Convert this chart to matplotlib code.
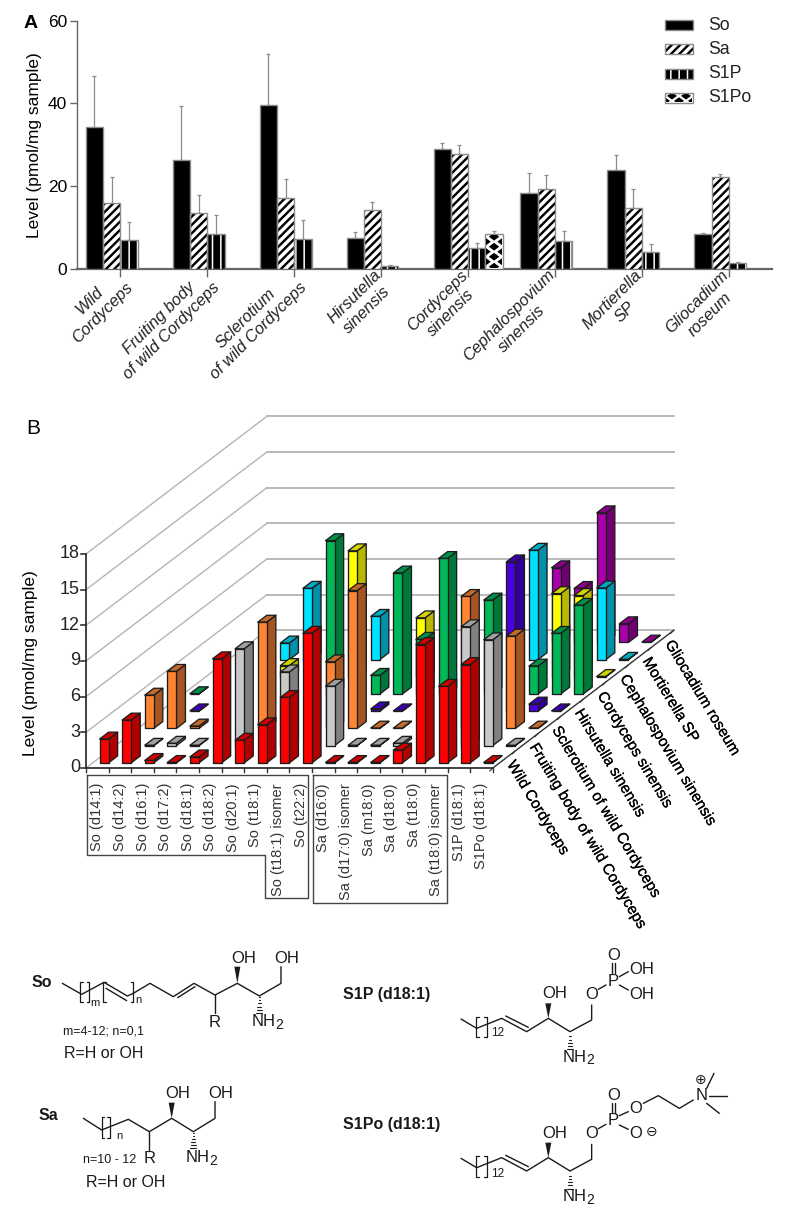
import numpy as np
import matplotlib
matplotlib.use("Agg")
import matplotlib.pyplot as plt
from matplotlib.patches import Polygon, Rectangle
from matplotlib.transforms import ScaledTranslation
from matplotlib.patheffects import withStroke

plt.rcParams["font.family"] = ["Liberation Sans", "DejaVu Sans"]

W, H = 787, 1210
nan = float("nan")

# ----------------------------------
# Panel A data
# ----------------------------------

species_a = [
    "Wild\nCordyceps", "Fruiting body\nof wild Cordyceps",
    "Sclerotium\nof wild Cordyceps", "Hirsutella\nsinensis",
    "Cordyceps\nsinensis", "Cephalospovium\nsinensis",
    "Mortierella\nSP", "Gliocadium\nroseum",
]
so_mean = [34.3, 26.2, 39.7, 7.5, 29.0, 18.4, 23.9, 8.5]
so_sd = [12.4, 13.1, 12.2, 1.5, 1.5, 4.7, 3.5, 0.2]
sa_mean = [16.0, 13.5, 17.2, 14.3, 27.7, 19.2, 14.6, 22.2]
sa_sd = [6.1, 4.3, 4.4, 1.9, 2.2, 3.4, 4.7, 0.8]
s1p_mean = [7.0, 8.4, 7.1, 0.6, 5.0, 6.6, 4.1, 1.5]
s1p_sd = [4.2, 4.5, 4.7, 0.2, 1.2, 2.6, 1.9, 0.1]
s1po_mean = [nan, nan, nan, nan, 8.5, nan, nan, nan]
s1po_sd = [nan, nan, nan, nan, 0.6, nan, nan, nan]

# ----------------------------------
# Panel B data (None = hidden behind a front bar)
# ----------------------------------

lipids = [
    "So (d14:1)", "So (d14:2)", "So (d16:1)", "So (d17:2)", "So (d18:1)",
    "So (d18:2)", "So (d20:1)", "So (t18:1)", "So (t18:1) isomer", "So (t22:2)",
    "Sa (d16:0)", "Sa (d17:0) isomer", "Sa (m18:0)", "Sa (d18:0)", "Sa (t18:0)",
    "Sa (t18:0) isomer", "S1P (d18:1)", "S1Po (d18:1)",
]
species_b = [
    "Wild Cordyceps", "Fruiting body of wild Cordyceps",
    "Sclerotium of wild Cordyceps", "Hirsutella sinensis", "Cordyceps sinensis",
    "Cephalospovium sinensis", "Mortierella SP", "Gliocadium roseum",
]
wild = [2.0, 3.6, 0.2, 0.03, 0.5, 8.75, 1.9, 3.2, 5.5, 10.9, 0.03, 0.03, 0.03,
        1.07, 9.95, 6.43, 8.27, 0.03]
fruiting = [None, 0.03, 0.2, 0.03, None, 8.15, None, 6.2, None, 5.0, 0.03, 0.03,
            0.2, None, None, 10.0, 8.9, 0.03]
sclerotium = [2.8, 4.8, 0.2, None, None, 8.94, None, None, 5.6, 11.6, 0.03, 0.03,
              None, None, 11.1, None, 7.77, 0.03]
hirsutella = [None, 0.03, None, None, None, None, None, None, None, 0.2, 0.03,
              None, None, None, None, 12.56, 0.6, 0.03]
cordyceps = [0.03, None, None, None, None, None, 12.9, None, 1.57, 10.18, 4.6,
             11.4, None, 7.9, None, 2.35, 5.1, 7.46]
cephalo = [None, None, None, 0.95, None, None, 10.6, None, None, 4.96, None, None,
           None, None, None, 7.0, 6.84, 0.03]
mortierella = [None, None, 1.4, 6.0, None, None, 3.64, None, None, None, None, None,
               None, 9.2, None, None, 6.03, 0.03]
gliocadium = [None, None, None, None, None, None, None, None, None, None, None,
              None, None, 6.28, 4.54, 10.9, 1.57, 0.03]
level_rows = [wild, fruiting, sclerotium, hirsutella, cordyceps, cephalo,
              mortierella, gliocadium]

# front, side, top
row_colors = [
    ("#ff0000", "#b00000", "#d00000"),
    ("#c8c8c8", "#808080", "#a0a0a0"),
    ("#ff8533", "#a65522", "#c46a2c"),
    ("#4b00e0", "#300098", "#3c00b4"),
    ("#00b858", "#00783a", "#009048"),
    ("#ffff00", "#b8b800", "#d4d400"),
    ("#00e0ff", "#0090a8", "#00aac4"),
    ("#a800a8", "#700070", "#8a008a"),
]

fig = plt.figure(figsize=(W / 100, H / 100), dpi=100)
fig.patch.set_facecolor("white")

# ----------------------------------
# Panel A
# ----------------------------------

GREY = "#666666"
ax = fig.add_axes([77 / W, 1 - 268.7 / H, (772 - 77) / W, (268.7 - 20.7) / H])
group_px = 86.95
bar_w = 17.3 / group_px
ax.set_xlim((77 - 120.3) / group_px, (772 - 120.3) / group_px)
ax.set_ylim(0, 60)
xpos = np.arange(len(species_a))


def hatched_bar(x, vals, face, hatch=None, hatch_color="black", hatch_lw=1.3):
    with plt.rc_context({"hatch.linewidth": hatch_lw}):
        ax.bar(x, vals, bar_w, color=face, edgecolor=hatch_color, hatch=hatch,
               linewidth=0, zorder=3)
    ax.bar(x, vals, bar_w, fill=False, edgecolor="#8c8c8c", linewidth=1, zorder=4)


series = [
    (so_mean, so_sd, "black", None, "black", 1.3),
    (sa_mean, sa_sd, "white", "////", "black", 1.75),
    (s1p_mean, s1p_sd, "black", "||", "white", 1.1),
    (s1po_mean, s1po_sd, "white", None, "black", 1.3),
]
for i, (vals, sd, face, hatch, hc, hlw) in enumerate(series):
    x = xpos + (i - 1.5) * bar_w
    hatched_bar(x, vals, face, hatch, hc, hlw)
    ax.errorbar(x, vals, yerr=[np.zeros(len(sd)), sd], fmt="none", ecolor="#8c8c8c",
                elinewidth=0.9, capsize=1.5, capthick=0.9, zorder=2)

ax.spines["top"].set_visible(False)
ax.spines["right"].set_visible(False)
ax.spines["left"].set_color(GREY)
ax.spines["left"].set_linewidth(1)
ax.spines["bottom"].set_color(GREY)
ax.spines["bottom"].set_linewidth(1.6)
ax.set_yticks([0, 20, 40, 60])
ax.tick_params(axis="y", labelsize=12.5, length=5, width=1, color=GREY, pad=2)
ax.set_xticks(xpos)
ax.set_xticklabels(species_a, rotation=45, ha="right", va="top",
                   rotation_mode="anchor", ma="center", style="italic", fontsize=11.8,
                   color="#222222", linespacing=1.25)
ax.tick_params(axis="x", length=6, width=1, color=GREY, pad=-7)
shift = ScaledTranslation(-8 / 100, 0, fig.dpi_scale_trans)
for lab in ax.get_xticklabels():
    lab.set_transform(lab.get_transform() + shift)
ax.set_ylabel("Level (pmol/mg sample)", fontsize=12.5, labelpad=4)

# ----------------------------------
# Pixel canvas for everything else
# ----------------------------------

canvas = fig.add_axes([0, 0, 1, 1], zorder=5)
canvas.set_xlim(0, W)
canvas.set_ylim(H, 0)
canvas.axis("off")
canvas.patch.set_alpha(0)

canvas.text(24, 27.7, "A", fontsize=14, fontweight="bold", va="baseline")
canvas.text(26, 434, "B", fontsize=15, va="baseline")


def diamonds(x0, y0, w, h, px=17, py=10, hw=5.2, hh=3.9):
    # S1Po fill: staggered black diamonds, clipped to the bar
    clip = Rectangle((x0 + 1, y0 + 1), w - 2, h - 2, transform=canvas.transData)
    cx = x0 + w / 2
    for j in range(int(h / (py / 2)) + 2):
        cy = y0 + h - 2 - j * py / 2
        off = 0 if j % 2 == 0 else px / 2
        for i in range(-3, 4):
            xc = cx + i * px + off
            d = Polygon([(xc - hw, cy), (xc, cy - hh), (xc + hw, cy), (xc, cy + hh)],
                        closed=True, facecolor="black", edgecolor="none")
            canvas.add_patch(d)
            d.set_clip_path(clip)


# the S1Po bar, taken from the axis scales
idx = 4
xa = ax.transData.transform((xpos[idx] + 1.5 * bar_w - bar_w / 2, s1po_mean[idx]))
xb = ax.transData.transform((xpos[idx] + 1.5 * bar_w + bar_w / 2, 0))
diamonds(xa[0], H - xa[1], xb[0] - xa[0], xa[1] - xb[1])

# legend
legend_names = ["So", "Sa", "S1P", "S1Po"]
for i, (name, s) in enumerate(zip(legend_names, series)):
    y0 = 20 + i * 24.3
    with plt.rc_context({"hatch.linewidth": s[5]}):
        canvas.add_patch(Rectangle((665, y0), 28, 10, facecolor=s[2], edgecolor=s[4],
                                   hatch=s[3], linewidth=0))
    if name == "S1Po":
        diamonds(665, y0, 28, 10, px=14, py=10, hw=5, hh=3.6)
    canvas.add_patch(Rectangle((665, y0), 28, 10, fill=False, edgecolor="#8c8c8c", linewidth=1))
    canvas.text(708, y0 + 5, name, fontsize=12.7, va="center", ha="left", color="#222222")

# ----------------------------------
# Panel B, oblique projection
# ----------------------------------

X0, Y0 = 86, 768
COL = 22.6
DX, DY = 22.6, 17.2
UNIT = 11.89
n_cols = len(lipids)
n_rows = len(species_b)


def proj(col, row, val=0.0):
    return (X0 + col * COL + row * DX, Y0 - row * DY - val * UNIT)


WALL = "#b4b4b4"
ticks_b = [0, 3, 6, 9, 12, 15, 18]
for v in ticks_b:
    a, b, c = proj(0, 0, v), proj(0, n_rows, v), proj(n_cols, n_rows, v)
    canvas.plot([a[0], b[0]], [a[1], b[1]], color=WALL, lw=1, zorder=1)
    canvas.plot([b[0], c[0]], [b[1], c[1]], color=WALL, lw=1.3, zorder=1)
    canvas.plot([a[0], a[0] - 5], [a[1], a[1]], color="#333333", lw=1.2, zorder=2)
    canvas.text(a[0] - 6, a[1], str(v), ha="right", va="center", fontsize=13, color="#222222")

canvas.plot([X0, X0], [proj(0, 0, 18)[1], Y0], color="#333333", lw=1.3, zorder=2)
f1, f2 = proj(n_cols, 0), proj(n_cols, n_rows)
canvas.plot([X0, f1[0]], [Y0, f1[1]], color="#333333", lw=1.3, zorder=2)
canvas.plot([f1[0], f2[0]], [f1[1], f2[1]], color="#333333", lw=1, zorder=2)

for k in range(n_cols + 1):
    p = proj(k, 0)
    canvas.plot([p[0], p[0]], [p[1], p[1] + 4], color="#333333", lw=1, zorder=2)
for r in range(n_rows + 1):
    p = proj(n_cols, r)
    canvas.plot([p[0], p[0] - 3], [p[1], p[1] + 3], color="#333333", lw=0.8, zorder=2)

EDGE = "#1c1c1c"
z = 10
for r in range(n_rows - 1, -1, -1):
    front, side, top = row_colors[r]
    for k, v in enumerate(level_rows[r]):
        if v is None:
            continue
        c0, c1 = k + 0.3, k + 0.7
        r0, r1 = r + 0.3, r + 0.7
        polys = [
            ([proj(c1, r0), proj(c1, r1), proj(c1, r1, v), proj(c1, r0, v)], side),
            ([proj(c0, r0, v), proj(c1, r0, v), proj(c1, r1, v), proj(c0, r1, v)], top),
            ([proj(c0, r0), proj(c1, r0), proj(c1, r0, v), proj(c0, r0, v)], front),
        ]
        for pts, col in polys:
            canvas.add_patch(Polygon(pts, closed=True, facecolor=col, edgecolor=EDGE,
                                     linewidth=0.95, joinstyle="round", zorder=z))
        z += 1

canvas.text(31, 663, "Level (pmol/mg sample)", rotation=90, ha="center", va="center",
            fontsize=12.5)

for k, name in enumerate(lipids):
    p = proj(k + 0.5, 0)
    canvas.text(p[0], 783, name, rotation=90, ha="center", va="top", fontsize=10.5,
                color="#333333")

for r, name in enumerate(species_b):
    p = proj(n_cols, r + 0.5)
    canvas.text(p[0] + 12, p[1] - 1, name, rotation=-59, ha="left", va="top",
                rotation_mode="anchor", fontsize=11, color="black",
                path_effects=[withStroke(linewidth=0.15, foreground="black")])

box_color = "#444444"
canvas.plot([87, 308, 308, 265, 265, 87, 87], [775, 775, 898, 898, 855, 855, 775],
            color=box_color, lw=1)
canvas.plot([313, 446.5, 446.5, 313, 313], [775, 775, 903, 903, 775], color=box_color, lw=1)

# ----------------------------------
# Structures (traced on a 3x grid)
# ----------------------------------


def line(ox, oy, pts, lw=1.0):
    xs = [ox + p[0] / 3 for p in pts]
    ys = [oy + p[1] / 3 for p in pts]
    canvas.plot(xs, ys, color="#1a1a1a", lw=lw, solid_capstyle="round")


def label(ox, oy, x, y, s, size=12, **kw):
    kw.setdefault("ha", "center")
    kw.setdefault("va", "center")
    canvas.text(ox + x / 3, oy + y / 3, s, fontsize=size, color="#1a1a1a", **kw)


def wedge(ox, oy, base, tip, half=9):
    pts = [(ox + base[0] / 3, oy + base[1] / 3),
           (ox + (tip[0] - half) / 3, oy + tip[1] / 3),
           (ox + (tip[0] + half) / 3, oy + tip[1] / 3)]
    canvas.add_patch(Polygon(pts, closed=True, facecolor="#1a1a1a", edgecolor="none"))


def hashed(ox, oy, base, tip):
    for t in np.linspace(0.08, 1, 6):
        y = base[1] + (tip[1] - base[1]) * t
        half = 9 * t
        line(ox, oy, [(base[0] - half, y), (base[0] + half, y)], lw=0.8)


def bracket(ox, oy, x, y0, y1, side):
    line(ox, oy, [(x + side * 8, y0), (x, y0), (x, y1), (x + side * 8, y1)], lw=0.9)


def nh2(ox, oy, x, y):
    label(ox, oy, x, y, "NH")
    label(ox, oy, x + 47, y + 9, "2", size=10)


# So
ox, oy = 0, 950
label(ox, oy, 125, 98, "So", fontweight="bold", size=11.5)
line(ox, oy, [(187, 100), (245, 133), (312, 97), (382, 138), (400, 130), (450, 100),
              (520, 140), (582, 100), (645, 135), (712, 100), (778, 138), (843, 100),
              (843, 50)])
line(ox, oy, [(318, 115), (380, 152)])
line(ox, oy, [(533, 143), (585, 110)])
line(ox, oy, [(645, 135), (645, 190)])
bracket(ox, oy, 240, 95, 155, 1)
bracket(ox, oy, 268, 95, 155, -1)
bracket(ox, oy, 310, 95, 155, 1)
bracket(ox, oy, 400, 95, 155, -1)
label(ox, oy, 285, 158, "m", size=8)
label(ox, oy, 416, 150, "n", size=8)
wedge(ox, oy, (712, 100), (712, 50))
hashed(ox, oy, (778, 138), (778, 188))
label(ox, oy, 730, 25, "OH")
label(ox, oy, 860, 25, "OH")
nh2(ox, oy, 790, 216)
label(ox, oy, 645, 217, "R")
label(ox, oy, 190, 243, "m=4-12; n=0,1", ha="left", size=9)
label(ox, oy, 192, 312, "R=H or OH", ha="left", size=11.5)

# Sa
label(ox, oy, 145, 497, "Sa", fontweight="bold", size=11.5)
line(ox, oy, [(250, 505), (305, 540), (385, 508), (448, 545), (515, 505), (580, 545),
              (645, 505), (645, 455)])
line(ox, oy, [(448, 545), (448, 600)])
bracket(ox, oy, 305, 502, 565, 1)
bracket(ox, oy, 330, 502, 565, -1)
label(ox, oy, 358, 558, "n", size=8)
wedge(ox, oy, (515, 505), (515, 458))
hashed(ox, oy, (580, 545), (580, 595))
label(ox, oy, 532, 432, "OH")
label(ox, oy, 663, 432, "OH")
nh2(ox, oy, 593, 624)
label(ox, oy, 448, 625, "R")
label(ox, oy, 250, 630, "n=10 - 12", ha="left", size=9)
label(ox, oy, 258, 697, "R=H or OH", ha="left", size=11.5)

# S1P and S1Po share the sphingoid backbone
ox, oy = 330, 950
label(ox, oy, 40, 135, "S1P (d18:1)", ha="left", fontweight="bold", size=11.5)
label(ox, oy, 40, 522, "S1Po (d18:1)", ha="left", fontweight="bold", size=11.5)

for dy, sub in [(0, 250), (418, 254)]:
    line(ox, oy + dy / 3, [(393, 207), (440, 235), (515, 205), (590, 245), (655, 205),
                           (720, 245), (785, 210), (785, 165)])
    line(ox, oy + dy / 3, [(527, 198), (595, 232)])
    bracket(ox, oy + dy / 3, 438, 200, 262, 1)
    bracket(ox, oy + dy / 3, 470, 200, 262, -1)
    label(ox, oy + dy / 3, 503, sub, "12", size=8.5)
    wedge(ox, oy + dy / 3, (655, 205), (655, 160))
    hashed(ox, oy + dy / 3, (720, 245), (720, 298))
    label(ox, oy + dy / 3, 675, 132, "OH")
    nh2(ox, oy + dy / 3, 733, 322)
    label(ox, oy + dy / 3, 785, 133, "O")
    line(ox, oy + dy / 3, [(805, 118), (828, 105)])
    label(ox, oy + dy / 3, 850, 93, "P")

line(ox, oy, [(845, 70), (845, 38)])
line(ox, oy, [(856, 70), (856, 38)])
label(ox, oy, 850, 18, "O")
line(ox, oy, [(868, 80), (895, 65)])
line(ox, oy, [(868, 105), (895, 120)])
label(ox, oy, 935, 58, "OH")
label(ox, oy, 935, 133, "OH")

line(ox, oy, [(845, 488), (845, 458)])
line(ox, oy, [(856, 488), (856, 458)])
label(ox, oy, 850, 438, "O")
line(ox, oy, [(868, 497), (895, 485)])
line(ox, oy, [(868, 525), (895, 538)])
label(ox, oy, 916, 475, "O")
label(ox, oy, 916, 552, "O")
label(ox, oy, 965, 547, "\u2296", size=10, family=["DejaVu Sans"])
line(ox, oy, [(940, 460), (985, 437), (1048, 475), (1090, 450)])
label(ox, oy, 1115, 437, "N")
label(ox, oy, 1112, 390, "\u2295", size=10, family=["DejaVu Sans"])
line(ox, oy, [(1130, 415), (1152, 370)])
line(ox, oy, [(1138, 437), (1190, 437)])
line(ox, oy, [(1130, 460), (1168, 490)])

fig.savefig("out.png", dpi=100)
